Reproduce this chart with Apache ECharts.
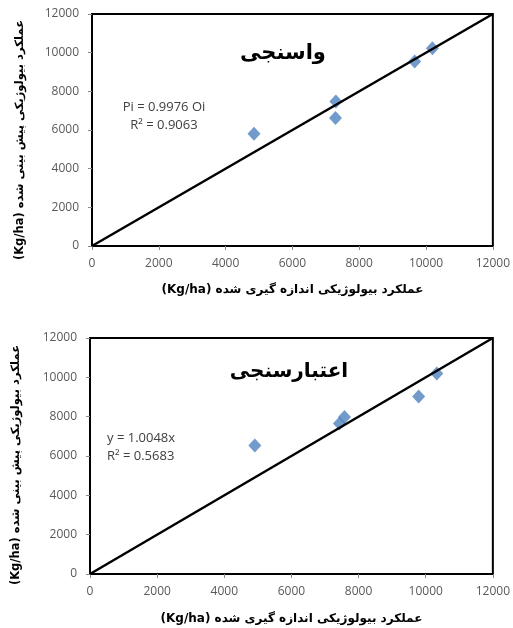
<!DOCTYPE html>
<html><head><meta charset="utf-8">
<script src="https://cdn.jsdelivr.net/npm/echarts@6/dist/echarts.min.js"></script>
<style>html,body{margin:0;padding:0;background:#fff}#c{width:513px;height:628px}</style>
</head><body><div id="c"></div>
<script>
const axisTicks = [0, 2000, 4000, 6000, 8000, 10000, 12000];
const calibObserved = [4850, 7300, 7290, 9660, 10190];
const calibPredicted = [5800, 7480, 6620, 9540, 10230];
const validObserved = [4910, 7430, 7580, 9790, 10330];
const validPredicted = [6530, 7650, 7980, 9020, 10190];
const refLine = [[0, 0], [12000, 12000]];
const titles = ['واسنجی', 'اعتبارسنجی'];
const unit = '(Kg/ha)';
const xName = 'عملکرد بیولوژیکی اندازه گیری شده';
const yName = 'عملکرد بیولوژیکی پیش بینی شده';
const eqTop = ['Pi = 0.9976 Oi', 'R² = 0.9063'];
const eqBottom = ['y = 1.0048x', 'R² = 0.5683'];

const chart = echarts.init(document.getElementById('c'));
const lblFont = 'Open Sans, Noto Sans, sans-serif';
function xAx(i, gap) {
  return {
    gridIndex: i, type: 'value', min: axisTicks[0], max: axisTicks[axisTicks.length - 1], interval: axisTicks[1] - axisTicks[0],
    axisLine: {show: true, lineStyle: {color: '#000', width: 2}},
    axisTick: {show: true, length: 4, lineStyle: {color: '#888'}},
    axisLabel: {color: '#595959', fontSize: 12, fontFamily: lblFont, margin: 12, formatter: v => String(v)},
    splitLine: {show: false},
    name: unit + ' ' + xName, nameLocation: 'middle', nameGap: gap,
    nameTextStyle: {fontWeight: 'bold', fontSize: 12, color: '#000', fontFamily: 'DejaVu Sans'}
  };
}
function yAx(i) {
  return {
    gridIndex: i, type: 'value', min: axisTicks[0], max: axisTicks[axisTicks.length - 1], interval: axisTicks[1] - axisTicks[0],
    axisLine: {show: true, lineStyle: {color: '#000', width: 2}},
    axisTick: {show: true, length: 4, lineStyle: {color: '#888'}},
    axisLabel: {color: '#595959', fontSize: 12, fontFamily: lblFont, margin: 13, formatter: v => String(v)},
    splitLine: {show: false}
  };
}
function pts(xs, ys) { return xs.map((x, k) => [x, ys[k]]); }
const yTitleStyle = {text: unit + ' ' + yName, font: 'bold 11.5px DejaVu Sans', fill: '#000', align: 'center', verticalAlign: 'middle'};
chart.setOption({
  animation: false,
  grid: [
    {left: 92, top: 14, width: 401, height: 232, show: true, borderColor: '#000', borderWidth: 2},
    {left: 90, top: 338, width: 407, height: 236, show: true, borderColor: '#000', borderWidth: 2}
  ],
  xAxis: [xAx(0, 38), xAx(1, 39)],
  yAxis: [yAx(0), yAx(1)],
  series: [
    {type: 'line', xAxisIndex: 0, yAxisIndex: 0, data: refLine, symbol: 'none', lineStyle: {color: '#000', width: 2.5}},
    {type: 'scatter', xAxisIndex: 0, yAxisIndex: 0, data: pts(calibObserved, calibPredicted), symbol: 'diamond', symbolSize: [13, 14], itemStyle: {color: '#4F81BD'}},
    {type: 'line', xAxisIndex: 1, yAxisIndex: 1, data: refLine, symbol: 'none', lineStyle: {color: '#000', width: 2.5}},
    {type: 'scatter', xAxisIndex: 1, yAxisIndex: 1, data: pts(validObserved, validPredicted), symbol: 'diamond', symbolSize: [13, 14], itemStyle: {color: '#4F81BD'}}
  ],
  graphic: [
    {type: 'text', x: 20, y: 140, rotation: Math.PI / 2, style: yTitleStyle},
    {type: 'text', x: 16, y: 465, rotation: Math.PI / 2, style: yTitleStyle},
    {type: 'text', x: 283, y: 54, style: {text: titles[0], font: 'bold 21px DejaVu Sans', fill: '#000', align: 'center', verticalAlign: 'middle'}},
    {type: 'text', x: 289, y: 372, style: {text: titles[1], font: 'bold 20px DejaVu Sans', fill: '#000', align: 'center', verticalAlign: 'middle'}},
    {type: 'text', x: 164, y: 107, style: {text: eqTop[0], font: '13px Open Sans', fill: '#404040', align: 'center', verticalAlign: 'middle'}},
    {type: 'text', x: 164, y: 125, style: {text: eqTop[1], font: '13px Open Sans', fill: '#404040', align: 'center', verticalAlign: 'middle'}},
    {type: 'text', x: 107, y: 438, style: {text: eqBottom[0], font: '13px Open Sans', fill: '#404040', align: 'left', verticalAlign: 'middle'}},
    {type: 'text', x: 107, y: 456, style: {text: eqBottom[1], font: '13px Open Sans', fill: '#404040', align: 'left', verticalAlign: 'middle'}}
  ]
});
</script></body></html>
